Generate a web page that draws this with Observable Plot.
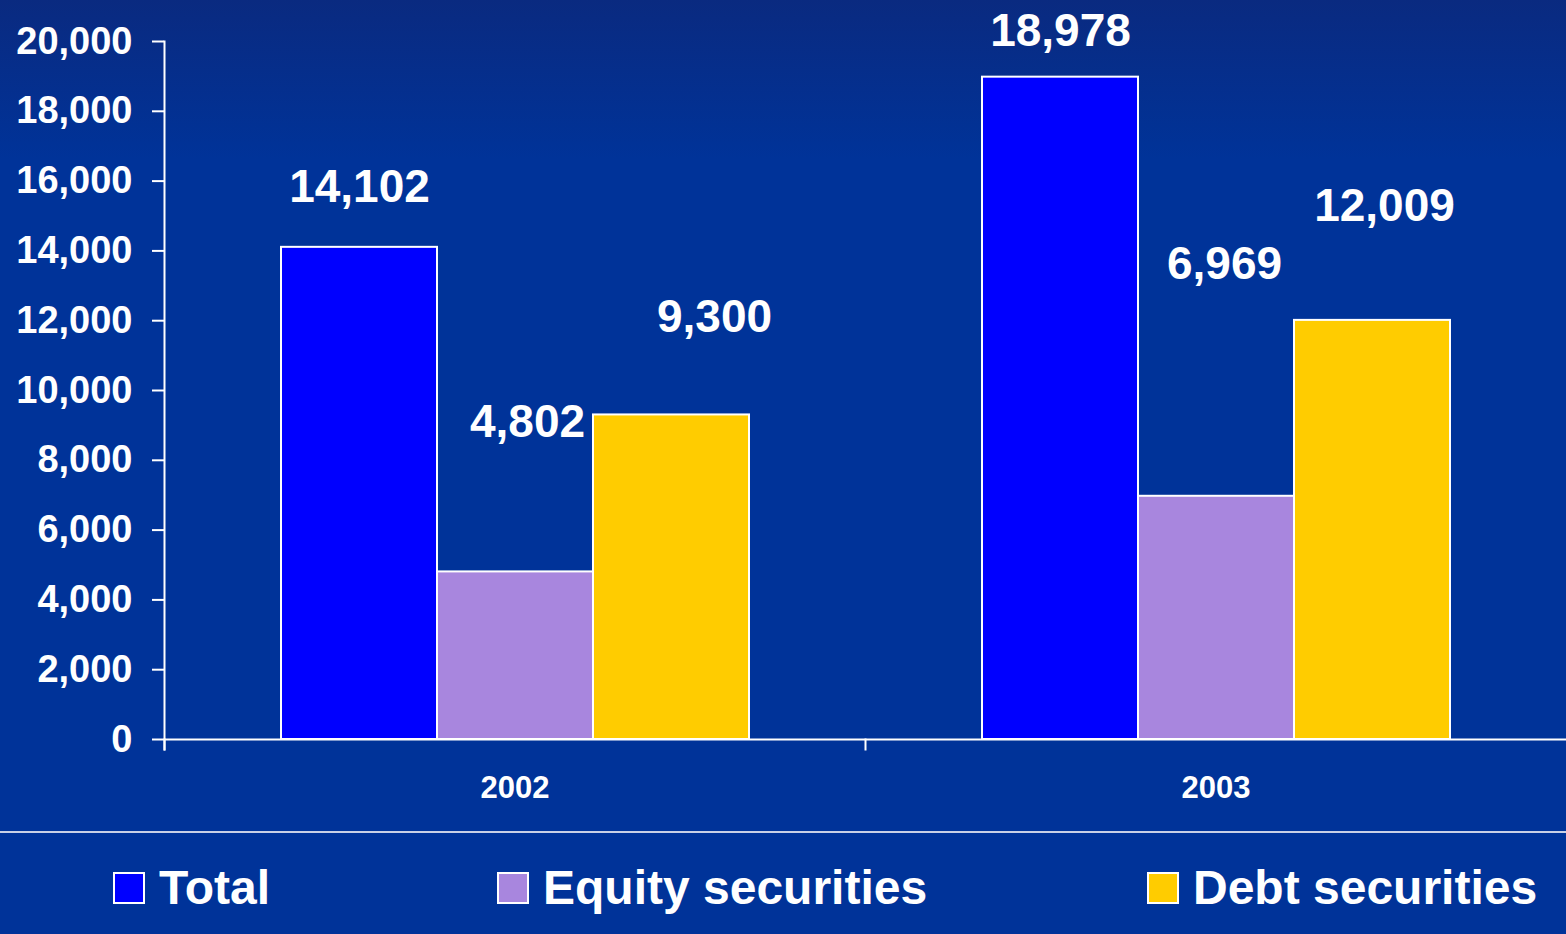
<!DOCTYPE html>
<html>
<head>
<meta charset="utf-8">
<script src="https://cdn.jsdelivr.net/npm/d3@7"></script>
<script src="https://cdn.jsdelivr.net/npm/@observablehq/plot@0.6"></script>
<style>
  html, body { margin: 0; padding: 0; }
  body {
    width: 1566px; height: 934px; overflow: hidden; position: relative;
    background: linear-gradient(to bottom, #0a2a80 0px, #003399 160px, #003399 100%);
    font-family: "Liberation Sans", Arial, sans-serif;
  }
  #chart { position: absolute; left: 0; top: 0; }
  #legend {
    position: absolute; left: 0; top: 831px; width: 1566px; height: 103px;
    border-top: 2px solid #c8d0e6; box-sizing: border-box;
  }
  .item { position: absolute; top: 4px; height: 101px; display: flex; align-items: center;
    color: white; font-weight: bold; font-size: 48px; }
  .sw { width: 28px; height: 28px; border: 2px solid white; margin-right: 14px; margin-top: 0px; }
</style>
</head>
<body>
<div id="chart"></div>
<div id="legend"></div>
<script>
const years = ["2002", "2003"];
const series = ["Total", "Equity securities", "Debt securities"];
const totalValues = [14102, 18978];
const equityValues = [4802, 6969];
const debtValues = [9300, 12009];
const yTickValues = [0, 2000, 4000, 6000, 8000, 10000, 12000, 14000, 16000, 18000, 20000];

// styling
const colors = ["#0000ff", "#a886de", "#ffcc00"];
const legendLeft = [113, 497, 1147];
// label pixel offsets [dx, dy] per year/series
const labelOffsets = [[0, -60], [12, -150], [43, -98], [0, -46], [8, -232], [12, -114]];

const seriesValues = [totalValues, equityValues, debtValues];
const rows = years.flatMap((yr, i) => series.map((s, j) => ({year: yr, series: s, value: seriesValues[j][i]})));
const fmt = d3.format(",");

const labelMarks = rows.map((r, k) => Plot.text([r], {
  fx: "year", x: "series", y: "value", text: d => fmt(d.value),
  dx: labelOffsets[k][0], dy: labelOffsets[k][1],
  fontSize: 46, fontWeight: "bold", fill: "white"
}));

const chart = Plot.plot({
  width: 1566, height: 831,
  marginLeft: 164, marginRight: 0, marginTop: 41, marginBottom: 92,
  style: {background: "transparent", color: "white", fontFamily: "'Liberation Sans', Arial, sans-serif", fontWeight: "bold", overflow: "visible"},
  fx: {domain: years, padding: 0, label: null},
  x: {domain: series, paddingInner: 0, paddingOuter: 0.74, axis: null},
  y: {domain: [0, 20000], label: null},
  color: {domain: series, range: colors},
  marks: [
    Plot.axisY({ticks: yTickValues, tickFormat: fmt, tickSize: 12, tickPadding: 20, fontSize: 38, strokeWidth: 2, stroke: "white", label: null}),
    Plot.axisFx({anchor: "bottom", tickSize: 0, tickPadding: 36, fontSize: 31, label: null}),
    Plot.barY(rows, {fx: "year", x: "series", y: "value", fill: "series", stroke: "white", strokeWidth: 2}),
    Plot.ruleY([0], {stroke: "white", strokeWidth: 2}),
    Plot.frame({anchor: "left", facet: "super", stroke: "white", strokeWidth: 2, insetBottom: -10}),
    Plot.frame({anchor: "left", stroke: "white", strokeWidth: 2, insetTop: 698, insetBottom: -10}),
    ...labelMarks
  ]
});
document.getElementById("chart").appendChild(chart);

const legend = document.getElementById("legend");
series.forEach((s, i) => {
  const item = document.createElement("div");
  item.className = "item";
  item.style.left = legendLeft[i] + "px";
  const sw = document.createElement("div");
  sw.className = "sw";
  sw.style.background = colors[i];
  const t = document.createElement("span");
  t.textContent = s;
  item.appendChild(sw);
  item.appendChild(t);
  legend.appendChild(item);
});
</script>
</body>
</html>
